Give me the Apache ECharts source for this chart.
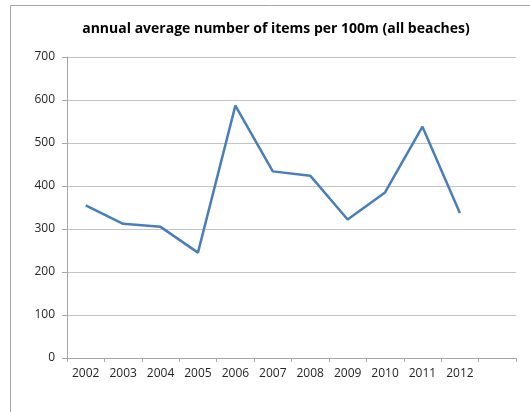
<!DOCTYPE html>
<html>
<head>
<meta charset="utf-8">
<script src="https://cdn.jsdelivr.net/npm/echarts@6/dist/echarts.min.js"></script>
<style>
  html, body { margin: 0; padding: 0; background: #fff; }
  #chart { width: 530px; height: 412px; }
</style>
</head>
<body>
<div id="chart"></div>
<script>
// Years on the category axis; a trailing blank slot keeps the axis running past 2012
const years = ['2002', '2003', '2004', '2005', '2006', '2007', '2008', '2009', '2010', '2011', '2012', ''];
// Annual average number of litter items per 100 m, all beaches
const itemsPer100m = [355, 312, 305, 245, 587, 434, 424, 322, 385, 538, 337];
const yTicks = { min: 0, max: 700, step: 100 };

const chart = echarts.init(document.getElementById('chart'), null, { renderer: 'canvas' });
const font = '"Open Sans", "Liberation Sans", sans-serif';

chart.setOption({
  animation: false,
  backgroundColor: '#fff',
  graphic: [{
    type: 'rect',
    shape: { x: 10.5, y: 5.5, width: 600, height: 500 },
    style: { fill: 'none', stroke: '#a6a6a6', lineWidth: 1 },
    silent: true
  }],
  title: {
    text: 'annual average number of items per 100m (all beaches)',
    left: 271, top: 17, textAlign: 'center',
    textStyle: { fontFamily: font, fontSize: 14, fontWeight: 'bold', color: '#000' }
  },
  grid: { left: 67, right: 14, top: 57, bottom: 54, containLabel: false },
  xAxis: {
    type: 'category',
    data: years,
    boundaryGap: true,
    axisLine: { lineStyle: { color: '#a6a6a6', width: 1 } },
    axisTick: { show: true, length: 4, alignWithLabel: false, lineStyle: { color: '#a6a6a6' } },
    axisLabel: { interval: 0, margin: 10, fontFamily: font, fontSize: 12, color: '#262626' },
    splitLine: { show: false }
  },
  yAxis: {
    type: 'value',
    min: yTicks.min, max: yTicks.max, interval: yTicks.step,
    axisLine: { show: true, lineStyle: { color: '#a6a6a6', width: 1 } },
    axisTick: { show: true, length: 5, lineStyle: { color: '#a6a6a6' } },
    axisLabel: { margin: 12, fontFamily: font, fontSize: 12, color: '#262626' },
    splitLine: { lineStyle: { color: '#c4c4c4', width: 1 } }
  },
  series: [{
    type: 'line',
    data: itemsPer100m,
    symbol: 'none',
    lineStyle: { color: '#4a7ebb', width: 2.5 },
    itemStyle: { color: '#4a7ebb' }
  }]
});
</script>
</body>
</html>
